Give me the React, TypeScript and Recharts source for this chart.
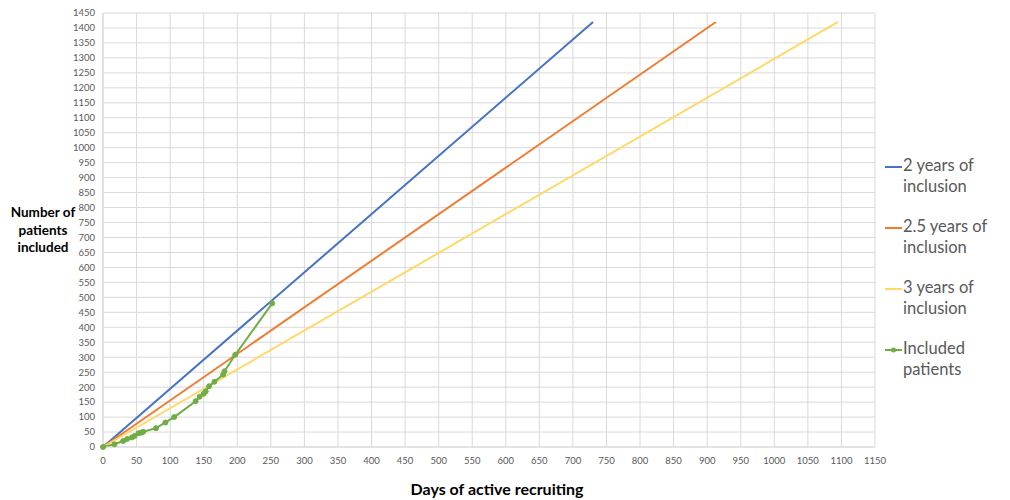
import React from 'react';
import { LineChart, Line, XAxis, YAxis, CartesianGrid } from 'recharts';

// axis ticks, every 50
const xTicks = [0, 50, 100, 150, 200, 250, 300, 350, 400, 450, 500, 550, 600, 650, 700, 750, 800, 850, 900, 950, 1000, 1050, 1100, 1150];
const yTicks = [0, 50, 100, 150, 200, 250, 300, 350, 400, 450, 500, 550, 600, 650, 700, 750, 800, 850, 900, 950, 1000, 1050, 1100, 1150, 1200, 1250, 1300, 1350, 1400, 1450];

const seriesNames = ['2 years of inclusion', '2.5 years of inclusion', '3 years of inclusion', 'Included patients'];
const seriesColors = ['#4472c4', '#ed7d31', '#ffd966', '#70ad47'];

// projected inclusion lines (start, end)
const targetPatients = [0, 1420];
const twoYearDays = [0, 730];
const twoHalfYearDays = [0, 913];
const threeYearDays = [0, 1095];

// observed inclusions
const includedDays = [0, 17, 30, 36, 43, 47, 53, 57, 60, 79, 93, 106, 138, 144, 150, 153, 158, 166, 179, 181, 197, 252];
const includedPatients = [0, 9, 20, 27, 32, 37, 46, 48, 51, 63, 82, 100, 153, 168, 178, 186, 203, 218, 242, 253, 308, 480];

const toRows = (xs: number[], ys: number[]) => xs.map((x, i) => ({ day: x, patients: ys[i] }));

const seriesData = [
  toRows(twoYearDays, targetPatients),
  toRows(twoHalfYearDays, targetPatients),
  toRows(threeYearDays, targetPatients),
  toRows(includedDays, includedPatients),
];

const FONT = 'Lato, "Open Sans", sans-serif';
const TICK_STYLE = { fill: '#595959', fontSize: 9.5, fontFamily: FONT };

const ChartLegend = () => (
  <div style={{ position: 'absolute', left: 885, top: 155, width: 125, fontFamily: FONT, fontSize: 16.5, color: '#595959' }}>
    {seriesNames.map((name, i) => (
      <div key={name} style={{ display: 'flex', alignItems: 'flex-start', height: 61 }}>
        <svg width={18} height={22} style={{ flex: 'none' }}>
          <line x1={0} y1={12} x2={17} y2={12} stroke={seriesColors[i]} strokeWidth={2} />
          {i === 3 && <circle cx={8.5} cy={12} r={2.5} fill={seriesColors[i]} />}
        </svg>
        <div style={{ width: 102, lineHeight: '21px' }}>{name}</div>
      </div>
    ))}
  </div>
);

export default function App() {
  return (
    <div style={{ position: 'absolute', left: 0, top: 0, width: 1010, height: 500, background: '#fff' }}>
      <LineChart width={1010} height={500} margin={{ top: 13, right: 135, bottom: 0, left: 0 }}>
        <CartesianGrid stroke="#d9d9d9" strokeWidth={1} />
        <XAxis
          type="number"
          dataKey="day"
          domain={[0, 1150]}
          ticks={xTicks}
          interval={0}
          height={53}
          tickSize={0}
          tickMargin={10}
          axisLine={{ stroke: '#d9d9d9' }}
          tick={TICK_STYLE}
          allowDuplicatedCategory={false}
        />
        <YAxis
          type="number"
          dataKey="patients"
          domain={[0, 1450]}
          ticks={yTicks}
          interval={0}
          width={103}
          tickSize={0}
          tickMargin={8}
          axisLine={{ stroke: '#d9d9d9' }}
          tick={TICK_STYLE}
        />
        {seriesData.map((rows, i) => (
          <Line
            key={seriesNames[i]}
            data={rows}
            dataKey="patients"
            name={seriesNames[i]}
            type="linear"
            stroke={seriesColors[i]}
            strokeWidth={2}
            dot={i === 3 ? { r: 2.5, fill: seriesColors[i], stroke: seriesColors[i], strokeWidth: 1 } : false}
            activeDot={false}
            isAnimationActive={false}
          />
        ))}
      </LineChart>
      <div style={{ position: 'absolute', left: 0, top: 204, width: 86, textAlign: 'center', fontFamily: FONT, fontWeight: 700, fontSize: 13.5, lineHeight: '17.5px', color: '#000' }}>
        Number of<br />patients<br />included
      </div>
      <div style={{ position: 'absolute', left: 0, top: 479, width: 994, textAlign: 'center', fontFamily: FONT, fontWeight: 700, fontSize: 16, color: '#000' }}>
        Days of active recruiting
      </div>
      <ChartLegend />
    </div>
  );
}
